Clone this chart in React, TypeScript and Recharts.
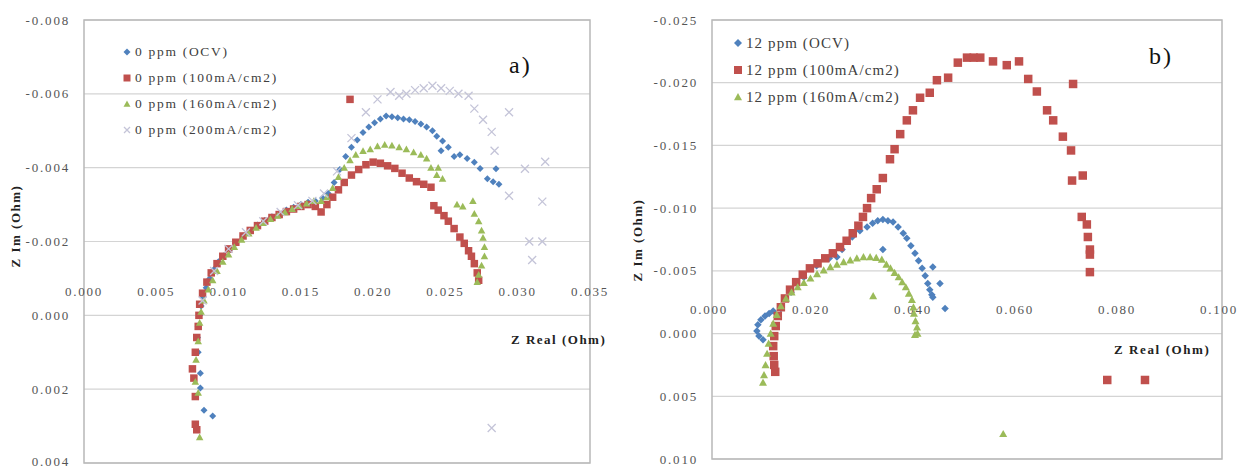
import React from 'react';
import { ScatterChart, Scatter, XAxis, YAxis, CartesianGrid, ReferenceArea } from 'recharts';

// ---------------- DATA (Ohm) ----------------
// Chart a) 0 ppm
const ppm0OCV: [number, number][] = [
  [0.0089, 0.00273], [0.0083, 0.00257], [0.00805, 0.00197], [0.00805, 0.00157], [0.0079, 0.001], [0.00785, 0.0006],
  [0.0079, 0.0003], [0.008, 0.0], [0.0081, -0.00025], [0.00825, -0.0005], [0.00845, -0.00075], [0.0087, -0.001],
  [0.009, -0.00125], [0.0093, -0.00145], [0.0097, -0.00162], [0.0101, -0.00178], [0.0105, -0.00195], [0.011, -0.00215],
  [0.0115, -0.0023], [0.012, -0.00245], [0.0125, -0.00257], [0.013, -0.00267], [0.0135, -0.00276], [0.014, -0.00285],
  [0.0145, -0.00293], [0.015, -0.003], [0.0155, -0.00306], [0.016, -0.0031], [0.0165, -0.00318], [0.0169, -0.0033],
  [0.0173, -0.0036], [0.0177, -0.00395], [0.0181, -0.0043], [0.0185, -0.00455], [0.0189, -0.00475], [0.0193, -0.00495],
  [0.0197, -0.0051], [0.0201, -0.00522], [0.0205, -0.00532], [0.0209, -0.0054], [0.0213, -0.00538], [0.0217, -0.00535],
  [0.0221, -0.00532], [0.0225, -0.0053], [0.0229, -0.00525], [0.0233, -0.00518], [0.0237, -0.0051], [0.0241, -0.005],
  [0.0244, -0.00485], [0.0248, -0.00472], [0.0247, -0.00446], [0.0252, -0.00455], [0.0256, -0.0043], [0.026, -0.00435],
  [0.0265, -0.00425], [0.027, -0.00415], [0.0274, -0.00398], [0.0279, -0.0037], [0.0283, -0.00362], [0.0287, -0.00355],
  [0.0285, -0.00397],
];
const ppm0I100: [number, number][] = [
  [0.0078, 0.0031], [0.0077, 0.00295], [0.0077, 0.0022], [0.0076, 0.0017], [0.0075, 0.00145], [0.0077, 0.001],
  [0.0078, 0.0006], [0.0079, 0.0003], [0.00795, 0.0], [0.008, -0.0003], [0.0082, -0.0006], [0.0085, -0.0009],
  [0.0088, -0.00115], [0.0092, -0.0014], [0.0096, -0.0016], [0.01, -0.0018], [0.0105, -0.00198], [0.011, -0.00215],
  [0.0115, -0.0023], [0.012, -0.00243], [0.0125, -0.00255], [0.013, -0.00265], [0.0135, -0.00273], [0.014, -0.00281],
  [0.0145, -0.00288], [0.015, -0.00295], [0.0155, -0.003], [0.016, -0.00295], [0.0164, -0.0028], [0.0168, -0.003],
  [0.0172, -0.0032], [0.0176, -0.0034], [0.018, -0.0036], [0.0185, -0.0038], [0.019, -0.00395], [0.0195, -0.00408],
  [0.02, -0.00415], [0.0205, -0.00412], [0.021, -0.00405], [0.0215, -0.00398], [0.022, -0.00385], [0.0225, -0.00372],
  [0.023, -0.00362], [0.0235, -0.00355], [0.024, -0.00347], [0.0242, -0.00297], [0.0245, -0.00285], [0.0249, -0.0027],
  [0.0252, -0.00255], [0.0256, -0.00235], [0.026, -0.00212], [0.0263, -0.00195], [0.0266, -0.00175], [0.0268, -0.0016],
  [0.027, -0.0014], [0.0272, -0.00115], [0.0273, -0.00095], [0.0184, -0.00585],
];
const ppm0I160: [number, number][] = [
  [0.008, 0.0033], [0.0079, 0.0021], [0.0077, 0.0018], [0.00775, 0.0012], [0.0079, 0.0007], [0.008, 0.0002],
  [0.0081, -0.0001], [0.0083, -0.0004], [0.0086, -0.0007], [0.0089, -0.00095], [0.0092, -0.0012], [0.0096, -0.00145],
  [0.01, -0.00165], [0.0104, -0.00185], [0.0109, -0.00205], [0.0114, -0.00222], [0.0119, -0.00237], [0.0124, -0.0025],
  [0.0129, -0.00261], [0.0134, -0.0027], [0.0139, -0.00279], [0.0144, -0.00288], [0.0149, -0.00296], [0.0154, -0.00303],
  [0.0159, -0.0031], [0.0164, -0.0031], [0.0168, -0.0032], [0.0172, -0.00345], [0.0176, -0.00375], [0.018, -0.004],
  [0.0184, -0.0042], [0.0188, -0.00435], [0.0193, -0.00445], [0.0198, -0.0045], [0.0203, -0.00458], [0.0208, -0.00462],
  [0.0213, -0.0046], [0.0218, -0.00455], [0.0223, -0.0045], [0.0228, -0.00442], [0.0233, -0.00435], [0.0237, -0.00425],
  [0.024, -0.004], [0.0244, -0.0038], [0.0248, -0.0037], [0.0245, -0.004], [0.0258, -0.003], [0.0262, -0.00295],
  [0.0269, -0.0031], [0.027, -0.00275], [0.0273, -0.00255], [0.0275, -0.0023], [0.0276, -0.0021], [0.0277, -0.00185],
  [0.0277, -0.0016], [0.0275, -0.00135], [0.0273, -0.0011], [0.0272, -0.0009],
];
const ppm0I200: [number, number][] = [
  [0.0082, -0.0004], [0.009, -0.0012], [0.01, -0.0018], [0.0112, -0.00225], [0.0124, -0.00255], [0.0136, -0.0028],
  [0.0148, -0.00298], [0.0158, -0.0031], [0.0166, -0.0033], [0.0175, -0.0039], [0.0185, -0.0048], [0.0195, -0.0055],
  [0.0203, -0.00585], [0.0212, -0.00605], [0.0218, -0.00595], [0.0223, -0.006], [0.0229, -0.0061], [0.0235, -0.00615],
  [0.0241, -0.00622], [0.0247, -0.00615], [0.0253, -0.00608], [0.0259, -0.006], [0.0266, -0.00595], [0.027, -0.0056],
  [0.0294, -0.0055], [0.0276, -0.0053], [0.0282, -0.00497], [0.0284, -0.00446], [0.0305, -0.00397], [0.0319, -0.00416],
  [0.0294, -0.00324], [0.0317, -0.00308], [0.0308, -0.002], [0.0317, -0.002], [0.031, -0.0015], [0.0282, 0.00305],
];

// Chart b) 12 ppm
const ppm12OCV: [number, number][] = [
  [0.01, 0.0005], [0.0092, 0.0002], [0.0088, -0.0002], [0.009, -0.0007], [0.0096, -0.0011], [0.0104, -0.0014],
  [0.0112, -0.0016], [0.012, -0.0018], [0.0135, -0.0020], [0.0155, -0.0033], [0.018, -0.0045], [0.0205, -0.0054],
  [0.023, -0.0060], [0.0245, -0.0061], [0.0255, -0.0067], [0.0275, -0.0077], [0.029, -0.0082], [0.0304, -0.0085],
  [0.0315, -0.0088], [0.0325, -0.009], [0.0335, -0.0091], [0.0345, -0.009], [0.0355, -0.0089], [0.0365, -0.0085],
  [0.0375, -0.008], [0.0382, -0.0076], [0.039, -0.007], [0.0398, -0.0064], [0.0405, -0.0058], [0.0412, -0.0052],
  [0.0418, -0.0046], [0.0423, -0.004], [0.0427, -0.0035], [0.0431, -0.0031], [0.0433, -0.0029], [0.0433, -0.0053],
  [0.0447, -0.004], [0.0457, -0.002], [0.0335, -0.0067],
];
const ppm12I100: [number, number][] = [
  [0.0124, 0.00305], [0.0122, 0.0025], [0.0121, 0.0018], [0.012, 0.001], [0.0122, 0.0002], [0.0125, -0.0006],
  [0.0129, -0.0014], [0.0135, -0.0021], [0.0143, -0.0028], [0.0153, -0.0035], [0.0165, -0.0041], [0.0178, -0.0047],
  [0.0192, -0.0052], [0.0207, -0.0056], [0.0222, -0.006], [0.0237, -0.0064], [0.0251, -0.0069], [0.0264, -0.0074],
  [0.0276, -0.008], [0.0287, -0.0086], [0.0296, -0.0093], [0.0304, -0.01], [0.0312, -0.0108], [0.0323, -0.0115],
  [0.0335, -0.0124], [0.0349, -0.0139], [0.0358, -0.0147], [0.0369, -0.0159], [0.0382, -0.017], [0.0394, -0.0178],
  [0.0408, -0.0188], [0.0427, -0.0192], [0.0441, -0.0202], [0.0463, -0.0204], [0.0482, -0.0216], [0.05, -0.022],
  [0.0513, -0.022], [0.0526, -0.022], [0.0551, -0.0217], [0.0578, -0.0214], [0.0602, -0.0217], [0.062, -0.0203],
  [0.0637, -0.0193], [0.0657, -0.0178], [0.0669, -0.017], [0.0688, -0.0157], [0.0704, -0.0146], [0.0706, -0.0122],
  [0.0727, -0.0126], [0.0708, -0.0199], [0.0725, -0.0093], [0.0735, -0.0087], [0.0737, -0.0077], [0.0741, -0.0067],
  [0.0741, -0.0063], [0.0741, -0.0049], [0.0775, 0.0037], [0.0849, 0.0037],
];
const ppm12I160: [number, number][] = [
  [0.01, 0.0039], [0.0102, 0.0033], [0.0105, 0.0025], [0.0108, 0.0016], [0.0111, 0.0008], [0.0115, 0.0],
  [0.012, -0.0008], [0.0127, -0.0015], [0.0135, -0.0022], [0.0145, -0.0028], [0.0156, -0.0033], [0.0168, -0.0037],
  [0.018, -0.00405], [0.0193, -0.0044], [0.0206, -0.00475], [0.0219, -0.00505], [0.0232, -0.0053], [0.0245, -0.0055],
  [0.0258, -0.0057], [0.0271, -0.00585], [0.0284, -0.006], [0.0297, -0.0061], [0.031, -0.0061], [0.0322, -0.00605],
  [0.0333, -0.0059], [0.0342, -0.0055], [0.035, -0.0052], [0.0358, -0.00485], [0.0366, -0.0045], [0.0373, -0.0041],
  [0.038, -0.0037], [0.0386, -0.0032], [0.0392, -0.0027], [0.0395, -0.0021], [0.0396, -0.0016], [0.0399, -0.001],
  [0.0402, -0.0005], [0.0403, 0.0], [0.0398, 0.0001], [0.0316, -0.003], [0.0571, 0.008],
];

// Axis ticks and labels
const xTicksA = [0, 0.005, 0.01, 0.015, 0.02, 0.025, 0.03, 0.035];
const yTicksA = [-0.008, -0.006, -0.004, -0.002, 0, 0.002, 0.004];
const xTicksB = [0, 0.02, 0.04, 0.06, 0.08, 0.1];
const yTicksB = [-0.025, -0.02, -0.015, -0.01, -0.005, 0, 0.005, 0.01];

const namesA = ['0 ppm (OCV)', '0 ppm (100mA/cm2)', '0 ppm (160mA/cm2)', '0 ppm (200mA/cm2)'];
const namesB = ['12 ppm (OCV)', '12 ppm (100mA/cm2)', '12 ppm (160mA/cm2)'];
const xTitle = 'Z Real (Ohm)';
const yTitle = 'Z Im (Ohm)';

// ---------------- STYLE ----------------
const FONT = '"Liberation Serif", "Times New Roman", serif';
const BLUE = '#4F81BD';
const RED = '#C0504D';
const GREEN = '#9BBB59';
const GREY = '#c4c4d8';
const GRID = '#d4d4d4';
const BORDER = '#b8b8b8';
const TICK_COLOR = '#555555';

const toRows = (arr: [number, number][]) => arr.map(([x, y]) => ({ x, y }));
const fmt = (v: number) => v.toFixed(3);

type Kind = 'diamond' | 'square' | 'triangle' | 'cross';

const markerPath = (kind: Kind, cx: number, cy: number, s: number) => {
  const r = s / 2;
  switch (kind) {
    case 'diamond':
      return `M${cx},${cy - r}L${cx + r},${cy}L${cx},${cy + r}L${cx - r},${cy}Z`;
    case 'square':
      return `M${cx - r},${cy - r}h${s}v${s}h${-s}Z`;
    case 'triangle':
      return `M${cx},${cy - r}L${cx + r},${cy + r * 0.8}L${cx - r},${cy + r * 0.8}Z`;
    default:
      return `M${cx - r},${cy - r}L${cx + r},${cy + r}M${cx + r},${cy - r}L${cx - r},${cy + r}`;
  }
};

const Marker = ({ kind, cx, cy, s, color }: { kind: Kind; cx: number; cy: number; s: number; color: string }) =>
  kind === 'cross' ? (
    <path d={markerPath(kind, cx, cy, s)} stroke={color} strokeWidth={1.3} fill="none" />
  ) : (
    <path d={markerPath(kind, cx, cy, s)} fill={color} />
  );

const shapeOf = (kind: Kind, s: number, color: string) => (p: any) => {
  if (p == null || p.cx == null || p.cy == null) return <g />;
  return <Marker kind={kind} cx={p.cx} cy={p.cy} s={s} color={color} />;
};

const tickTextStyle: React.CSSProperties = {
  fontFamily: FONT,
  fontSize: 13,
  letterSpacing: 1.8,
  fill: TICK_COLOR,
};

const xTickShapeOf = (dx: number) => (p: any) => {
  if (p == null || p.cx == null) return <g />;
  return (
    <text x={p.cx + dx} y={p.cy - 24} textAnchor="middle" dominantBaseline="central" style={tickTextStyle}>
      {p.payload.label}
    </text>
  );
};

const abs = (left: number, top: number, extra: React.CSSProperties = {}): React.CSSProperties => ({
  position: 'absolute',
  left,
  top,
  whiteSpace: 'nowrap',
  fontFamily: FONT,
  ...extra,
});

type SeriesDef = { name: string; rows: { x: number; y: number }[]; kind: Kind; size: number; color: string };

const LegendBox = ({
  items,
  left,
  top,
  gap,
  fontSize,
  spacing,
  markerSize,
}: {
  items: SeriesDef[];
  left: number;
  top: number;
  gap: number;
  fontSize: number;
  spacing: number;
  markerSize: number;
}) => (
  <div style={abs(left, top)}>
    {items.map((it, i) => (
      <div key={it.name} style={{ position: 'absolute', left: 0, top: i * gap, height: 20, display: 'flex', alignItems: 'center' }}>
        <svg width={10} height={12} style={{ marginRight: 3 }}>
          <Marker kind={it.kind} cx={5} cy={6} s={it.kind === 'cross' ? markerSize - 1 : markerSize} color={it.color} />
        </svg>
        <span style={{ fontFamily: FONT, fontSize, letterSpacing: spacing, color: '#404040' }}>{it.name}</span>
      </div>
    ))}
  </div>
);

const Panel = ({
  series,
  xDomain,
  yDomain,
  xTicks,
  yTicks,
  width,
  height,
  margin,
  yAxisWidth,
  labelDx,
}: {
  series: SeriesDef[];
  xDomain: [number, number];
  yDomain: [number, number];
  xTicks: number[];
  yTicks: number[];
  width: number;
  height: number;
  margin: { top: number; right: number; bottom: number; left: number };
  yAxisWidth: number;
  labelDx: number;
}) => {
  const tickRows = xTicks.map((v) => ({ x: v, y: 0, label: fmt(v) }));
  return (
    <ScatterChart width={width} height={height} margin={margin} style={{ overflow: 'visible' }}>
      <CartesianGrid vertical={false} stroke={GRID} strokeWidth={1.2} />
      <XAxis type="number" dataKey="x" domain={xDomain} ticks={xTicks} hide />
      <YAxis
        type="number"
        dataKey="y"
        domain={yDomain}
        ticks={yTicks}
        reversed
        width={yAxisWidth}
        axisLine={false}
        tickLine={false}
        tickSize={0}
        tickMargin={14}
        tickFormatter={fmt}
        tick={{ ...tickTextStyle } as any}
      />
      <ReferenceArea
        x1={xDomain[0]}
        x2={xDomain[1]}
        y1={yDomain[0]}
        y2={yDomain[1]}
        fill="none"
        fillOpacity={0}
        stroke={BORDER}
        strokeWidth={1.5}
      />
      <Scatter
        name="xticks"
        data={tickRows}
        shape={xTickShapeOf(labelDx)}
        legendType="none"
        isAnimationActive={false}
      />
      {series.map((s) => (
        <Scatter
          key={s.name}
          name={s.name}
          data={s.rows}
          shape={shapeOf(s.kind, s.size, s.color)}
          fill={s.color}
          isAnimationActive={false}
        />
      ))}
    </ScatterChart>
  );
};

export default function App() {
  const seriesA: SeriesDef[] = [
    { name: namesA[0], rows: toRows(ppm0OCV), kind: 'diamond', size: 7, color: BLUE },
    { name: namesA[1], rows: toRows(ppm0I100), kind: 'square', size: 7.5, color: RED },
    { name: namesA[2], rows: toRows(ppm0I160), kind: 'triangle', size: 7.5, color: GREEN },
    { name: namesA[3], rows: toRows(ppm0I200), kind: 'cross', size: 8, color: GREY },
  ];
  const seriesB: SeriesDef[] = [
    { name: namesB[0], rows: toRows(ppm12OCV), kind: 'diamond', size: 7.5, color: BLUE },
    { name: namesB[1], rows: toRows(ppm12I100), kind: 'square', size: 8.5, color: RED },
    { name: namesB[2], rows: toRows(ppm12I160), kind: 'triangle', size: 8, color: GREEN },
  ];

  return (
    <div style={{ position: 'absolute', left: 0, top: 0, width: 1239, height: 469, background: '#ffffff', overflow: 'hidden' }}>
      {/* Chart a */}
      <div style={{ position: 'absolute', left: 0, top: 0, width: 620, height: 469 }}>
        <Panel
          series={seriesA}
          xDomain={[0, 0.035]}
          yDomain={[-0.008, 0.004]}
          xTicks={xTicksA}
          yTicks={yTicksA}
          width={620}
          height={469}
          margin={{ top: 20, right: 30, bottom: 6, left: 24 }}
          yAxisWidth={60}
          labelDx={0}
        />
        <LegendBox items={seriesA} left={122} top={42} gap={26} fontSize={13.5} spacing={1.7} markerSize={7} />
        <div style={abs(509, 50, { fontSize: 24, letterSpacing: 2, color: '#111', lineHeight: '30px' })}>a)</div>
        <div style={abs(511, 331, { fontSize: 13, fontWeight: 'bold', letterSpacing: 1.5, color: '#222', lineHeight: '18px' })}>{xTitle}</div>
        <div
          style={abs(16, 226, {
            fontSize: 13,
            fontWeight: 'bold',
            letterSpacing: 1.5,
            color: '#222',
            lineHeight: '18px',
            transform: 'translate(-50%, -50%) rotate(-90deg)',
          })}
        >
          {yTitle}
        </div>
      </div>

      {/* Chart b */}
      <div style={{ position: 'absolute', left: 620, top: 0, width: 619, height: 469 }}>
        <Panel
          series={seriesB}
          xDomain={[0, 0.1]}
          yDomain={[-0.025, 0.01]}
          xTicks={xTicksB}
          yTicks={yTicksB}
          width={619}
          height={469}
          margin={{ top: 20, right: 17, bottom: 10, left: 28 }}
          yAxisWidth={64}
          labelDx={-3}
        />
        <LegendBox items={seriesB} left={113} top={33} gap={27} fontSize={15} spacing={1.1} markerSize={8} />
        <div style={abs(529, 41, { fontSize: 24, letterSpacing: 2, color: '#111', lineHeight: '30px' })}>b)</div>
        <div style={abs(494, 341, { fontSize: 13, fontWeight: 'bold', letterSpacing: 1.6, color: '#222', lineHeight: '18px' })}>{xTitle}</div>
        <div
          style={abs(18, 240, {
            fontSize: 13,
            fontWeight: 'bold',
            letterSpacing: 1.5,
            color: '#222',
            lineHeight: '18px',
            transform: 'translate(-50%, -50%) rotate(-90deg)',
          })}
        >
          {yTitle}
        </div>
      </div>
    </div>
  );
}
